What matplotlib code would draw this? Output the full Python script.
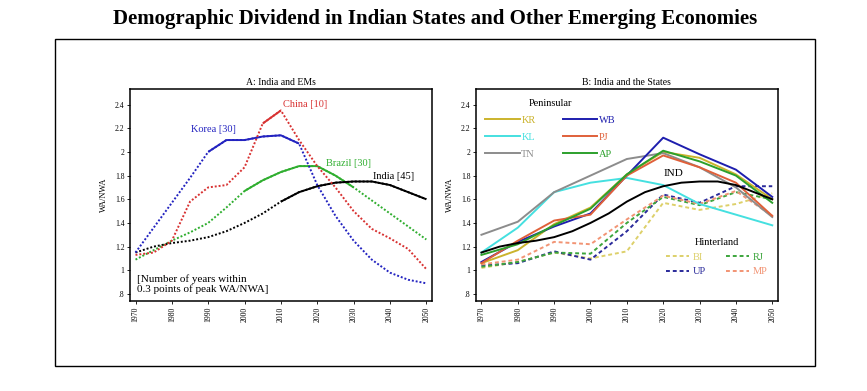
import numpy as np
import matplotlib.pyplot as plt
from matplotlib.patches import Rectangle

plt.rcParams['font.family'] = ['Liberation Serif', 'DejaVu Serif']

# ---- Panel A: India and EMs (5-year points) ----
years_a = np.arange(1970, 2051, 5)
korea = [1.15, 1.36, 1.57, 1.78, 2.00, 2.10, 2.10, 2.13, 2.14, 2.07,
         1.72, 1.46, 1.25, 1.09, 0.98, 0.92, 0.89]
china = [1.13, 1.15, 1.25, 1.58, 1.70, 1.72, 1.87, 2.24, 2.35, 2.10,
         1.88, 1.70, 1.50, 1.35, 1.27, 1.18, 1.01]
brazil = [1.09, 1.17, 1.25, 1.32, 1.40, 1.53, 1.67, 1.76, 1.83, 1.88,
          1.88, 1.80, 1.70, 1.59, 1.48, 1.37, 1.26]
india = [1.15, 1.20, 1.23, 1.25, 1.28, 1.33, 1.40, 1.48, 1.58, 1.66,
         1.71, 1.74, 1.75, 1.75, 1.72, 1.66, 1.60]
# years within 0.3 points of peak (drawn solid)
korea_win = (1990, 2015)
china_win = (2005, 2010)
brazil_win = (2000, 2030)
india_win = (2010, 2050)

# ---- Panel B: India and the States (decade points) ----
years_b = np.arange(1970, 2051, 10)
KR = [1.06, 1.17, 1.39, 1.53, 1.81, 2.00, 1.95, 1.81, 1.60]
KL = [1.15, 1.36, 1.66, 1.74, 1.78, 1.72, 1.56, 1.47, 1.38]
TN = [1.30, 1.41, 1.66, 1.80, 1.94, 1.99, 1.87, 1.70, 1.45]
WB = [1.07, 1.24, 1.37, 1.48, 1.80, 2.12, 1.98, 1.85, 1.62]
PJ = [1.06, 1.25, 1.42, 1.47, 1.80, 1.97, 1.87, 1.74, 1.46]
AP = [1.13, 1.22, 1.38, 1.52, 1.81, 2.01, 1.92, 1.80, 1.57]
BI = [1.02, 1.07, 1.15, 1.10, 1.16, 1.57, 1.51, 1.56, 1.65]
RJ = [1.03, 1.07, 1.15, 1.14, 1.40, 1.62, 1.55, 1.66, 1.60]
UP = [1.04, 1.06, 1.16, 1.09, 1.33, 1.64, 1.57, 1.71, 1.71]
MP = [1.05, 1.09, 1.24, 1.22, 1.43, 1.63, 1.56, 1.67, 1.46]

yticks = [0.8, 1.0, 1.2, 1.4, 1.6, 1.8, 2.0, 2.2, 2.4]
ytick_labels = ['.8', '1', '1.2', '1.4', '1.6', '1.8', '2', '2.2', '2.4']
xticks = list(range(1970, 2051, 10))

fig = plt.figure(figsize=(8.67, 3.91), dpi=100)
fig.patches.append(Rectangle((0.063, 0.064), 0.877, 0.836, transform=fig.transFigure,
                             fill=False, edgecolor='black', lw=1.0))
fig.text(0.502, 0.952, 'Demographic Dividend in Indian States and Other Emerging Economies',
         ha='center', va='center', fontsize=15, fontweight='bold')

axA = fig.add_axes([0.150, 0.230, 0.348, 0.542])
axB = fig.add_axes([0.549, 0.230, 0.348, 0.542])


def style(ax, title):
    ax.set_xlim(1968.5, 2051.5)
    ax.set_ylim(0.74, 2.53)
    ax.set_yticks(yticks)
    ax.set_yticklabels(ytick_labels)
    ax.set_xticks(xticks)
    ax.set_xticklabels([str(x) for x in xticks], rotation=90)
    ax.tick_params(labelsize=5.5, length=2.5, width=0.6, pad=1.5)
    for s in ax.spines.values():
        s.set_linewidth(1.1)
    ax.set_ylabel('WA/NWA', fontsize=6, labelpad=5)
    ax.set_title(title, fontsize=7, pad=3)


def plot_peak(ax, y, win, color, label, lx, ly):
    y = np.array(y)
    ax.plot(years_a, y, color=color, lw=1.4, ls=(0, (1, 1)))
    m = (years_a >= win[0]) & (years_a <= win[1])
    ax.plot(years_a[m], y[m], color=color, lw=1.4, solid_capstyle='butt')
    ax.text(lx, ly, label, color=color, fontsize=7.5, ha='left', va='center')


style(axA, 'A: India and EMs')
plot_peak(axA, brazil, brazil_win, '#2fae2f', 'Brazil [30]', 2022.3, 1.90)
plot_peak(axA, india, india_win, 'black', 'India [45]', 2035.2, 1.79)
plot_peak(axA, korea, korea_win, '#2323c0', 'Korea [30]', 1985.3, 2.19)
plot_peak(axA, china, china_win, '#d83232', 'China [10]', 2010.5, 2.40)
axA.text(1970.5, 0.8, '[Number of years within\n0.3 points of peak WA/NWA]',
         fontsize=8, ha='left', va='bottom', linespacing=1.0)

style(axB, 'B: India and the States')
pen = [('KR', KR, '#cbb32c'), ('KL', KL, '#45e0e0'), ('TN', TN, '#8c8c8c'),
       ('WB', WB, '#1e1eae'), ('PJ', PJ, '#e0603a'), ('AP', AP, '#2ca02c')]
hint = [('BI', BI, '#ddd06a'), ('UP', UP, '#2a2a9a'),
        ('RJ', RJ, '#3ca53c'), ('MP', MP, '#f29474')]

hint_lines = []
for name, y, c in hint:
    ln, = axB.plot(years_b, y, color=c, lw=1.4, ls=(0, (2, 1.5)), label=name)
    hint_lines.append(ln)
pen_lines = []
for name, y, c in pen:
    ln, = axB.plot(years_b, y, color=c, lw=1.4, label=name)
    pen_lines.append(ln)
axB.plot(years_a, india, color='black', lw=1.4)
axB.text(2020, 1.815, 'IND', fontsize=8, ha='left', va='center')

leg1 = axB.legend(handles=pen_lines, ncol=2, loc='upper left', bbox_to_anchor=(0.0, 1.0),
                  frameon=False, title='Peninsular', title_fontsize=7.5, fontsize=7.5,
                  labelcolor='linecolor', handlelength=3.3, handletextpad=0.15,
                  columnspacing=2.6, labelspacing=0.75)
axB.add_artist(leg1)
leg2 = axB.legend(handles=hint_lines, ncol=2, loc='upper left', bbox_to_anchor=(0.6, 0.34),
                  frameon=False, title='Hinterland', title_fontsize=7.5, fontsize=7.5,
                  labelcolor='linecolor', handlelength=2.2, handletextpad=0.3,
                  columnspacing=2.0, labelspacing=0.5)

fig.savefig('out.png', dpi=100)
